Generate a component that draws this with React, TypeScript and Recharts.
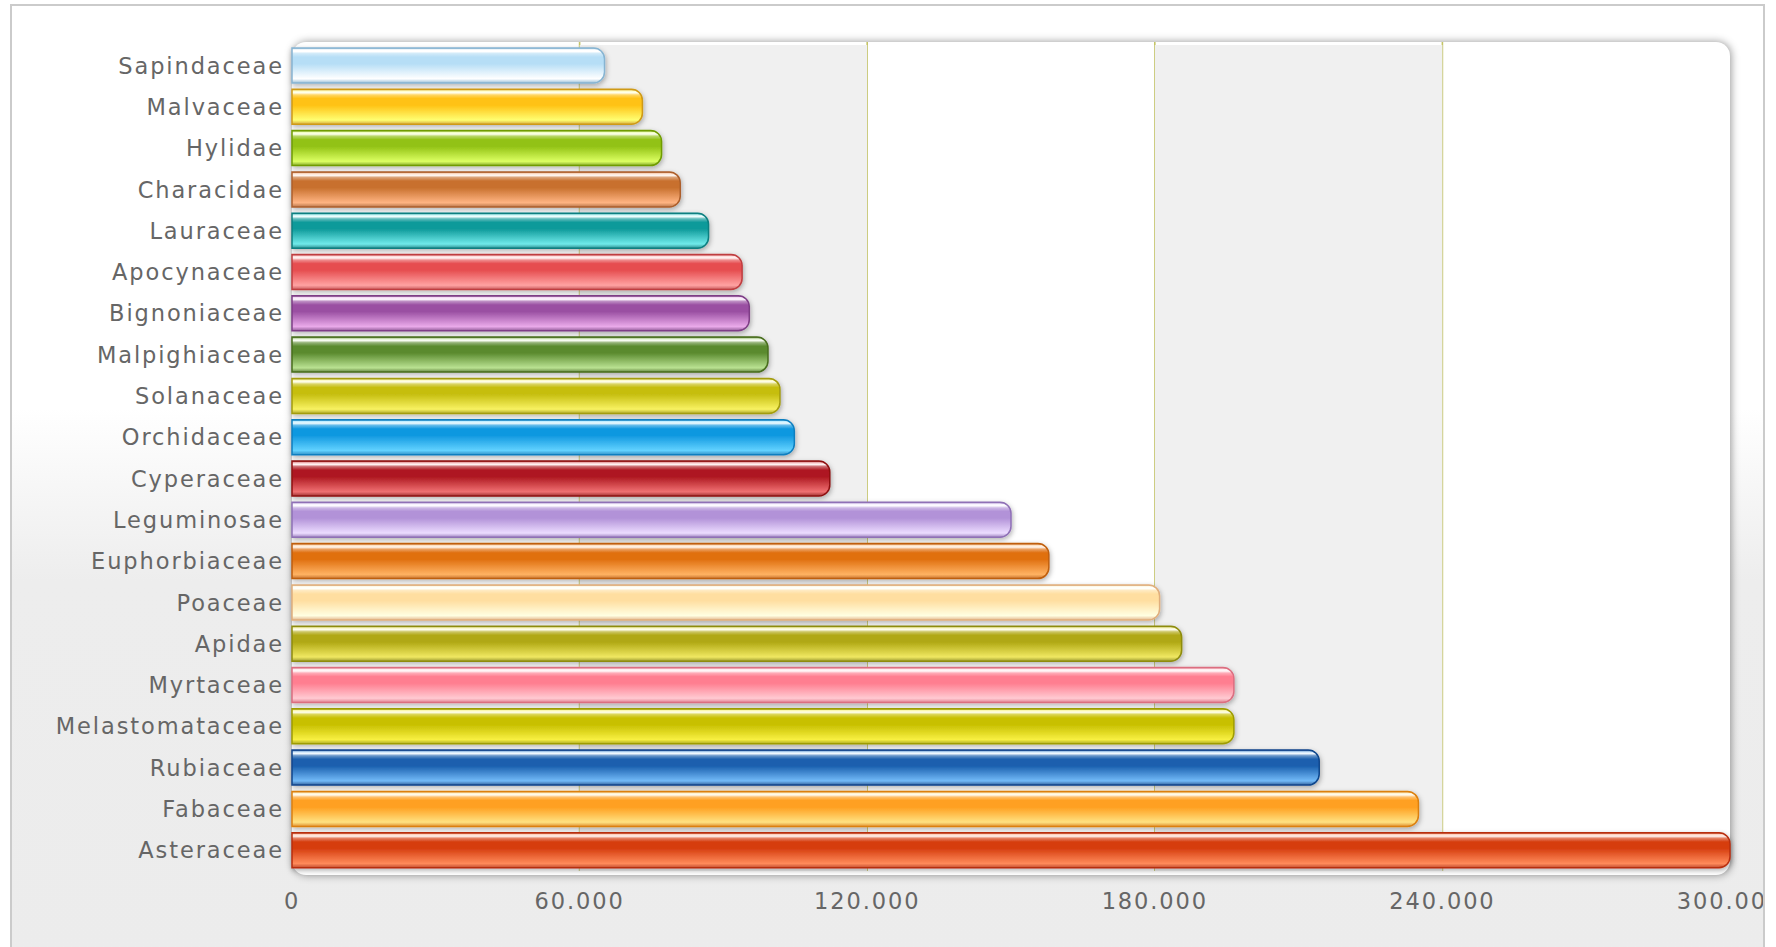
import React from "react";
import { BarChart, Bar, XAxis, YAxis, Cell, ReferenceArea, CartesianGrid } from "recharts";

const families = [
  "Sapindaceae", "Malvaceae", "Hylidae", "Characidae", "Lauraceae", "Apocynaceae", "Bignoniaceae",
  "Malpighiaceae", "Solanaceae", "Orchidaceae", "Cyperaceae", "Leguminosae", "Euphorbiaceae",
  "Poaceae", "Apidae", "Myrtaceae", "Melastomataceae", "Rubiaceae", "Fabaceae", "Asteraceae",
];

const counts = [
  65200, 73100, 77100, 81000, 86900, 93900, 95400,
  99300, 101800, 104800, 112200, 150000, 157900,
  181000, 185600, 196500, 196500, 214300, 235000, 300000,
];

const xTicks = [0, 60000, 120000, 180000, 240000, 300000];
const grayBands = [[60000, 120000], [180000, 240000]];
const gridValues = [60000, 120000, 180000, 240000];

// [dark, light, edge] per bar, top to bottom
const palette = [
  ["#b6def6", "#ffffff", "#86b4d2"],
  ["#ffc214", "#ffff72", "#cf9a18"],
  ["#92c214", "#dcff62", "#6f9c04"],
  ["#c8702e", "#ffb482", "#ad5f2c"],
  ["#0f9a9a", "#70eaea", "#0c7f80"],
  ["#e64e50", "#ffa2a2", "#bf3e40"],
  ["#9a4fa2", "#eaaaea", "#7e3e86"],
  ["#5a8a2e", "#bae292", "#486e1e"],
  ["#c6be10", "#f8f262", "#a39c0c"],
  ["#1098e0", "#62d2ff", "#0e7fc0"],
  ["#ae1820", "#f07072", "#8e1010"],
  ["#b292d8", "#ecdcff", "#8f70b6"],
  ["#e07010", "#ffb262", "#bf5e0e"],
  ["#ffdea0", "#ffffe2", "#e0ae7c"],
  ["#b0a812", "#f0e862", "#8e8c0e"],
  ["#ff7e90", "#ffcad2", "#dc6e80"],
  ["#c8c000", "#f8f042", "#9e9c00"],
  ["#1a5fae", "#72baf8", "#10468c"],
  ["#ffa020", "#ffe282", "#dc8010"],
  ["#d63e10", "#ff8a5a", "#b82e0e"],
];

const data = families.map((name, i) => ({ name, value: counts[i] }));

const fmt = (v: number) => String(v).replace(/\B(?=(\d{3})+(?!\d))/g, ".");

function mix(hex: string, t: number) {
  const n = parseInt(hex.slice(1), 16);
  const c = [(n >> 16) & 255, (n >> 8) & 255, n & 255].map((v) => Math.round(v + (255 - v) * t));
  return `rgb(${c[0]},${c[1]},${c[2]})`;
}

const GlossyBar = (props: any) => {
  const { x, y, width, height, fill, stroke } = props;
  if (!width || width <= 0) return null;
  const r = Math.min(11, height / 2, width / 2);
  const d = `M${x},${y} H${x + width - r} A${r},${r} 0 0 1 ${x + width},${y + r} V${y + height - r} A${r},${r} 0 0 1 ${x + width - r},${y + height} H${x} Z`;
  return <path d={d} fill={fill} stroke={stroke} strokeWidth={1.5} filter="url(#barShadow)" />;
};

const labelStyle = { fontFamily: "'DejaVu Sans', Verdana, sans-serif", fontSize: 22.5, fill: "#666666", letterSpacing: 1.9 };

export default function App() {
  return (
    <div style={{ position: "absolute", left: 0, top: 0, width: 1776, height: 947, background: "#fff", overflow: "hidden" }}>
      <svg width={0} height={0} style={{ position: "absolute" }}>
        <defs>
          <filter id="barShadow" x="-5%" y="-30%" width="110%" height="170%">
            <feDropShadow dx={1} dy={2} stdDeviation={2.4} floodColor="#000" floodOpacity={0.3} />
          </filter>
          {palette.map(([dark, light, edge], i) => (
            <linearGradient key={i} id={`g${i}`} x1="0" y1="0" x2="0" y2="1">
              <stop offset="0%" stopColor={edge} />
              <stop offset="5%" stopColor={mix(light, 0.6)} />
              <stop offset="10%" stopColor={mix(light, 0.9)} />
              <stop offset="16%" stopColor={mix(dark, 0.35)} />
              <stop offset="26%" stopColor={dark} />
              <stop offset="45%" stopColor={dark} />
              <stop offset="88%" stopColor={light} />
              <stop offset="100%" stopColor={mix(edge, 0.15)} />
            </linearGradient>
          ))}
        </defs>
      </svg>
      <div
        style={{
          position: "absolute", left: 10, top: 4, width: 1755, height: 960, boxSizing: "border-box",
          border: "2px solid #cbcbcb", borderBottom: "none",
          background: "linear-gradient(to bottom, #ffffff 0%, #ffffff 42%, #ededed 60%, #ececec 100%)",
        }}
      />
      <div
        style={{
          position: "absolute", left: 292, top: 42, width: 1438, height: 833, borderRadius: 14,
          background: "#fff", boxShadow: "1px 0 8px rgba(0,0,0,0.42)",
        }}
      />
      <div style={{ position: "absolute", left: 0, top: 0 }}>
        <BarChart
          width={1763}
          height={947}
          data={data}
          layout="vertical"
          margin={{ top: 42, right: 33, bottom: 42, left: 0 }}
          barSize={35}
        >
          {grayBands.map(([a, b]) => (
            <ReferenceArea key={a} x1={a} x2={b} fill="#f0f0f0" fillOpacity={1} stroke="none" />
          ))}
          <CartesianGrid horizontal={false} verticalValues={gridValues} stroke="#c4c466" strokeOpacity={1} strokeWidth={1.6} />
          <XAxis
            type="number"
            domain={[0, 300000]}
            ticks={xTicks}
            tickFormatter={fmt}
            axisLine={false}
            tickLine={false}
            tickMargin={16}
            interval={0}
            height={34}
            tick={labelStyle}
          />
          <YAxis
            type="category"
            dataKey="name"
            width={292}
            axisLine={false}
            tickLine={false}
            interval={0}
            padding={{ top: 3, bottom: 0 }}
            tick={labelStyle}
          />
          <Bar dataKey="value" isAnimationActive={false} shape={GlossyBar}>
            {data.map((_, i) => (
              <Cell key={i} fill={`url(#g${i})`} stroke={palette[i][2]} />
            ))}
          </Bar>
        </BarChart>
      </div>
    </div>
  );
}
